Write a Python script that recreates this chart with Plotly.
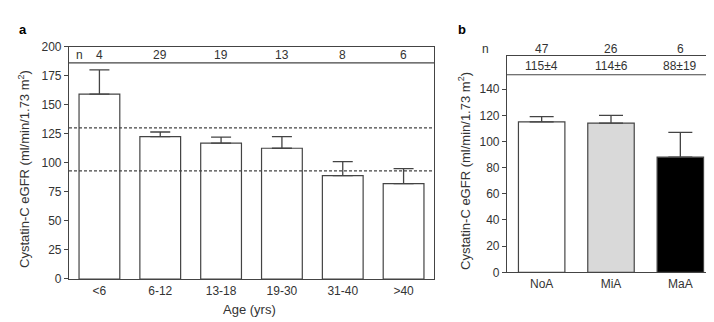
import plotly.graph_objects as go

# Panel a data
age_groups = ["<6", "6-12", "13-18", "19-30", "31-40", ">40"]
age_means = [159, 122.5, 117, 112.5, 89, 82]
age_err = [21, 4, 5, 10, 12, 13]
age_n = ["4", "29", "19", "13", "8", "6"]
ref_lines = [130, 93]

# Panel b data
alb_groups = ["NoA", "MiA", "MaA"]
alb_means = [115, 114, 88]
alb_err = [4, 6, 19]
alb_n = ["47", "26", "6"]
alb_text = ["115±4", "114±6", "88±19"]
alb_colors = ["#ffffff", "#d9d9d9", "#000000"]

FONT = "Liberation Sans, Arial, sans-serif"
TXT = "#333333"
LINE = "#444444"

fig = go.Figure()

fig.add_trace(go.Bar(
    x=age_groups, y=age_means, width=0.67,
    marker=dict(color="#ffffff", line=dict(color=LINE, width=1.2)),
    error_y=dict(type="data", array=age_err, arrayminus=[0]*len(age_err),
                 symmetric=False, color=LINE, thickness=1.3, width=10),
    xaxis="x", yaxis="y", showlegend=False))

fig.add_trace(go.Bar(
    x=alb_groups, y=alb_means, width=0.67,
    marker=dict(color=alb_colors, line=dict(color=LINE, width=1.2)),
    error_y=dict(type="data", array=alb_err, arrayminus=[0]*len(alb_err),
                 symmetric=False, color=LINE, thickness=1.3, width=12),
    xaxis="x2", yaxis="y2", showlegend=False))

axis_common = dict(showline=True, linecolor=LINE, linewidth=1.2, mirror=True,
                   showgrid=False, zeroline=False,
                   tickfont=dict(family=FONT, size=12, color=TXT))

fig.update_layout(
    width=714, height=322,
    margin=dict(l=0, r=0, t=0, b=0),
    paper_bgcolor="white", plot_bgcolor="white",
    font=dict(family=FONT, color=TXT),
    xaxis=dict(domain=[61/714, 426/714], anchor="y", range=[-0.5, 5.5],
               ticks="", **axis_common),
    yaxis=dict(domain=[46/322, 289/322], anchor="x", range=[0, 200],
               tickvals=[0, 25, 50, 75, 100, 125, 150, 175, 200],
               ticks="outside", ticklen=4, tickcolor=LINE, **axis_common),
    xaxis2=dict(domain=[499/714, 707/714], anchor="y2", range=[-0.5, 2.5],
                ticks="", **axis_common),
    yaxis2=dict(domain=[53/322, 278.7/322], anchor="x2", range=[0, 165],
                tickvals=[0, 20, 40, 60, 80, 100, 120, 140],
                ticks="outside", ticklen=4, tickcolor=LINE, **axis_common),
)

shapes = []
shapes.append(dict(type="line", xref="x domain", yref="y", x0=0, x1=1, y0=186, y1=186,
                   line=dict(color=LINE, width=1.2)))
for v in ref_lines:
    shapes.append(dict(type="line", xref="x domain", yref="y", x0=0, x1=1, y0=v, y1=v,
                       line=dict(color=LINE, width=1.2, dash="3px,2px")))
shapes.append(dict(type="line", xref="x2 domain", yref="y2", x0=0, x1=1, y0=151, y1=151,
                   line=dict(color=LINE, width=1.2)))
fig.update_layout(shapes=shapes)

ann = []
ann.append(dict(text="n", xref="x domain", yref="y", x=0.015, y=193, showarrow=False,
                xanchor="left", yanchor="middle", font=dict(size=12, color=TXT)))
for g, n in zip(age_groups, age_n):
    ann.append(dict(text=n, xref="x", yref="y", x=g, y=193, showarrow=False,
                    yanchor="middle", font=dict(size=12, color=TXT)))
ann.append(dict(text="n", xref="paper", yref="paper", x=483/714, y=1 - 36/322,
                showarrow=False, yanchor="middle", font=dict(size=12, color=TXT)))
for g, n, t in zip(alb_groups, alb_n, alb_text):
    ann.append(dict(text=n, xref="x2", yref="paper", x=g, y=1 - 36/322, showarrow=False,
                    yanchor="middle", font=dict(size=12, color=TXT)))
    ann.append(dict(text=t, xref="x2", yref="y2", x=g, y=158, showarrow=False,
                    yanchor="middle", font=dict(size=12, color=TXT)))
ytitle = "Cystatin-C eGFR (ml/min/1.73 m<sup>2</sup>)"
ann.append(dict(text=ytitle, xref="paper", yref="paper", x=16/714, y=1 - 161/322,
                textangle=-90, showarrow=False, xanchor="center", yanchor="middle",
                font=dict(size=13, color=TXT)))
ann.append(dict(text=ytitle, xref="paper", yref="paper", x=456/714, y=1 - 163/322,
                textangle=-90, showarrow=False, xanchor="center", yanchor="middle",
                font=dict(size=13, color=TXT)))
ann.append(dict(text="Age (yrs)", xref="paper", yref="paper", x=241/714, y=1 - 308/322,
                showarrow=False, xanchor="center", yanchor="middle",
                font=dict(size=13, color=TXT)))
ann.append(dict(text="<b>a</b>", xref="paper", yref="paper", x=15/714, y=1 - 15/322,
                showarrow=False, xanchor="center", yanchor="middle",
                font=dict(size=13, color="#000")))
ann.append(dict(text="<b>b</b>", xref="paper", yref="paper", x=454/714, y=1 - 15/322,
                showarrow=False, xanchor="center", yanchor="middle",
                font=dict(size=13, color="#000")))
fig.update_layout(annotations=ann)

fig.write_html("out.html")
